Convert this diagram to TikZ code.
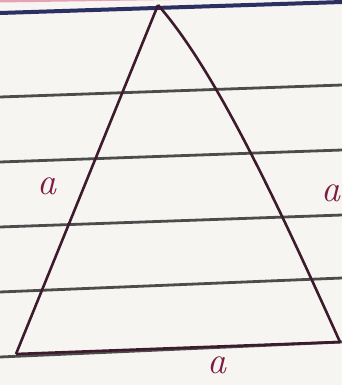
\documentclass[tikz,border=0pt]{standalone}
\usepackage{tikz}
\usetikzlibrary{positioning}

\definecolor{paper}{HTML}{F6F5F2}
\definecolor{rule}{HTML}{4C4C4C}
\definecolor{navy}{HTML}{2C2F62}
\definecolor{margin}{HTML}{E7A3B6}
\definecolor{ink}{HTML}{3E1B2C}
\definecolor{redink}{HTML}{7E1C44}

\begin{document}
\begin{tikzpicture}[
	x=1pt, y=-1pt,
	ruled/.style = {draw=rule, line width=2.8pt},
	side/.style = {draw=ink, line width=2.6pt, line join=round},
	letter/.style = {text=redink, font=\fontsize{38}{38}\selectfont\itshape, inner sep=0pt}
	]

	\fill[paper] (0,0) rectangle (342,385);
	\useasboundingbox (0,0) rectangle (342,385);

	% notebook lines
	\draw[draw=margin, line width=3pt] (0,1) -- (342,-4);
	\draw[draw=navy, line width=4pt] (0,13) -- (342,2);
	\foreach \yl/\yr in {97/85, 162/150, 227/215, 292/278, 357/342}
		\draw[ruled] (0,\yl) -- (342,\yr);

	% corners
	\coordinate (apex) at (158,5);
	\coordinate (left) at (16,354);
	\coordinate (right) at (340,342);

	\draw[side] (left) -- (apex);
	\draw[side] (apex) .. controls (215,70) and (276,200) .. (right);
	\draw[side] (left) -- (right);

	% side labels
	\node[letter] (la) at (47,186) {a};
	\node[letter] (ra) at (331,193) {a};
	\node[letter] (ba) at (217,365) {a};
\end{tikzpicture}
\end{document}
